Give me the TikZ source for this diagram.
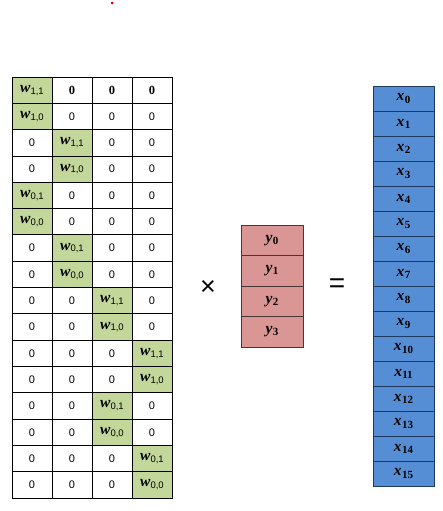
\documentclass[tikz,border=0pt]{standalone}
\usepackage{fontspec}
\setmainfont{Liberation Serif}
\setsansfont{Liberation Sans}
\definecolor{wgreen}{HTML}{C4D79B}
\definecolor{ypink}{HTML}{DA9694}
\definecolor{ydraw}{HTML}{4A3535}
\definecolor{xblue}{HTML}{558ED5}
\definecolor{xdraw}{HTML}{1F3A5F}
\newcommand{\wv}[1]{{\fontsize{15.5}{15}\selectfont\bfseries\itshape w}\raisebox{-0.4ex}{\fontsize{9.5}{10}\selectfont\sffamily #1}}
\newcommand{\vv}[2]{{\fontsize{15.5}{15}\selectfont\bfseries\itshape #1}\kern0.3pt\raisebox{-0.45ex}{\fontsize{11}{11}\selectfont\bfseries #2}}
\newcommand{\mkcell}[3]{%
  \ifnum#3=0 \node[zcell] (m-#1-#2) at ({-8+40*#2},{77+26.3125*(#1-0.5)}) {0};\fi
  \ifnum#3=5 \node[zcell,font=\fontsize{12.5}{12}\selectfont\bfseries] (m-#1-#2) at ({-8+40*#2},{77+26.3125*(#1-0.5)}) {0};\fi
  \ifnum#3=1 \node[wcell] (m-#1-#2) at ({-8+40*#2},{77+26.3125*(#1-0.5)}) {\wv{1,1}};\fi
  \ifnum#3=2 \node[wcell] (m-#1-#2) at ({-8+40*#2},{77+26.3125*(#1-0.5)}) {\wv{1,0}};\fi
  \ifnum#3=3 \node[wcell] (m-#1-#2) at ({-8+40*#2},{77+26.3125*(#1-0.5)}) {\wv{0,1}};\fi
  \ifnum#3=4 \node[wcell] (m-#1-#2) at ({-8+40*#2},{77+26.3125*(#1-0.5)}) {\wv{0,0}};\fi
}
\tikzset{
  cell/.style={draw=black, line width=0.8pt, minimum width=40pt, minimum height=26.3125pt, inner sep=0pt, anchor=center},
  zcell/.style={cell, fill=white, font=\fontsize{11}{11}\selectfont\sffamily},
  wcell/.style={cell, fill=wgreen},
  ycell/.style={draw=ydraw, line width=0.8pt, fill=ypink, minimum width=62pt, minimum height=30.5pt, inner sep=0pt},
  xcell/.style={draw=xdraw, line width=0.8pt, fill=xblue, minimum width=61pt, minimum height=25pt, inner sep=0pt},
  op/.style={inner sep=0pt, font=\fontsize{27}{27}\selectfont\sffamily}
}
\begin{document}
\begin{tikzpicture}[x=1pt,y=-1pt]
\useasboundingbox (0,0) rectangle (443,511);
\node[circle, fill=red!80!black, minimum size=3pt, inner sep=0pt] (dot) at (112,3) {};
\foreach \r/\a/\b/\c/\d in {
  1/1/5/5/5, 2/2/0/0/0, 3/0/1/0/0, 4/0/2/0/0,
  5/3/0/0/0, 6/4/0/0/0, 7/0/3/0/0, 8/0/4/0/0,
  9/0/0/1/0, 10/0/0/2/0, 11/0/0/0/1, 12/0/0/0/2,
  13/0/0/3/0, 14/0/0/4/0, 15/0/0/0/3, 16/0/0/0/4}{
  \mkcell{\r}{1}{\a}
  \mkcell{\r}{2}{\b}
  \mkcell{\r}{3}{\c}
  \mkcell{\r}{4}{\d}
}
\foreach \k in {0,...,3}{
  \node[ycell] (y\k) at (272,{225+30.5*(\k+0.5)}) {\vv{y}{\k}};
}
\foreach \k in {0,...,15}{
  \node[xcell] (x\k) at (403.5,{86+25*(\k+0.5)}) {\vv{x}{\k}};
}
\node[op] (times) at (208,288) {×};
\node[op, font=\fontsize{28}{28}\selectfont\sffamily] (eq) at (337,286) {=};
\end{tikzpicture}
\end{document}
